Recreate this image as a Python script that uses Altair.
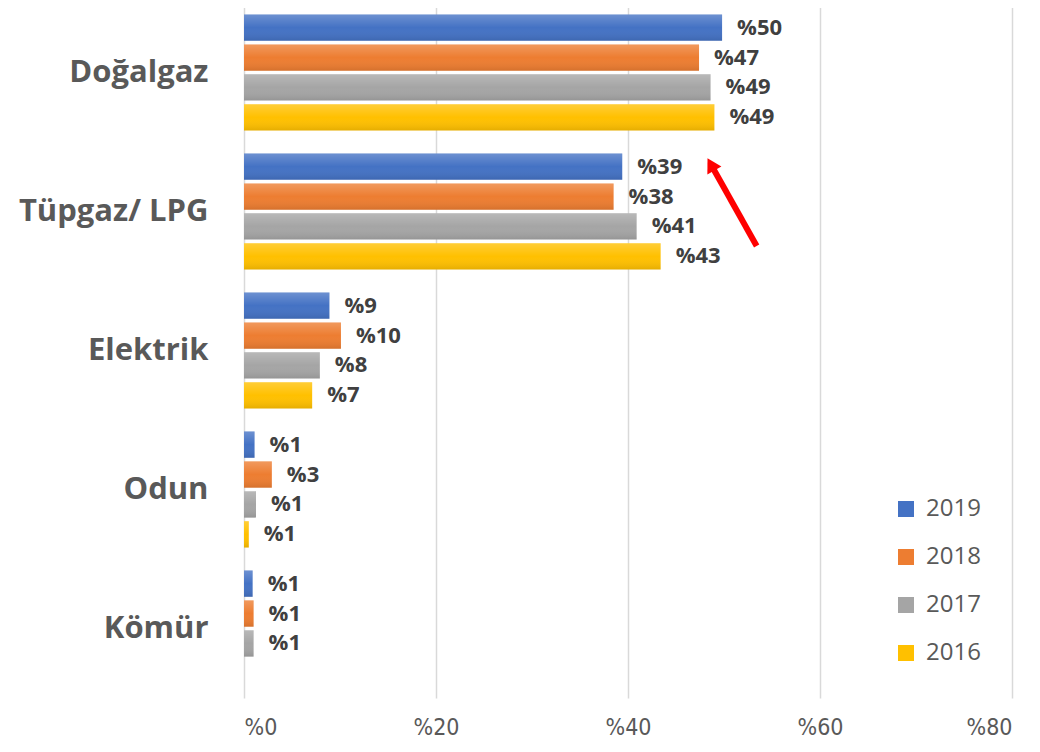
import altair as alt
import pandas as pd

categories = ["Doğalgaz", "Tüpgaz/ LPG", "Elektrik", "Odun", "Kömür"]
years = ["2019", "2018", "2017", "2016"]
colors = ["#4472C4", "#ED7D31", "#A5A5A5", "#FFC000"]

v2019 = [49.8, 39.4, 8.9, 1.1, 0.9]
v2018 = [47.4, 38.5, 10.1, 2.9, 1.0]
v2017 = [48.6, 40.9, 7.9, 1.25, 1.0]
v2016 = [49.0, 43.4, 7.1, 0.5, None]

l2019 = ["%50", "%39", "%9", "%1", "%1"]
l2018 = ["%47", "%38", "%10", "%3", "%1"]
l2017 = ["%49", "%41", "%8", "%1", "%1"]
l2016 = ["%49", "%43", "%7", "%1", None]

# red arrow annotation (x in %, y in category units from the top)
arrow_x = [53.4]
arrow_x2 = [48.95]
arrow_y = [1.748]
arrow_y2 = [1.199]
head_x = [48.64]
head_y = [1.161]

rows = []
for year, vals, labs in zip(years, [v2019, v2018, v2017, v2016], [l2019, l2018, l2017, l2016]):
    for c, v, l in zip(categories, vals, labs):
        if v is None:
            continue
        rows.append({"cat": c, "year": year, "value": v, "label": l})
df = pd.DataFrame(rows)

FONT = "Open Sans"
AXFONT = "Liberation Sans Narrow, DejaVu Sans Condensed, sans-serif"

x = alt.X(
    "value:Q",
    scale=alt.Scale(domain=[0, 80]),
    axis=alt.Axis(
        values=[0, 20, 40, 60, 80], labelExpr="'%' + datum.value", grid=True,
        gridColor="#d9d9d9", gridWidth=1.5, domain=False, ticks=False, labelFont=AXFONT,
        labelFontSize=23, labelColor="#595959", labelPadding=18, title=None,
    ),
)
y = alt.Y(
    "cat:N", sort=categories,
    scale=alt.Scale(paddingInner=0.165, paddingOuter=0.0825),
    axis=alt.Axis(
        title=None, domain=False, ticks=False, labelFont=FONT, labelFontWeight="bold",
        labelFontSize=31, labelColor="#595959", labelPadding=36, labelLimit=0,
    ),
)
yoff = alt.YOffset("year:N", sort=years, scale=alt.Scale(paddingInner=0.12))
color = alt.Color(
    "year:N", sort=years, scale=alt.Scale(domain=years, range=colors),
    legend=alt.Legend(
        orient="none", legendX=650, legendY=494, title=None, symbolType="square",
        symbolSize=256, labelFontSize=24, labelColor="#595959", labelFont=FONT,
        rowPadding=24, labelOffset=8, symbolStrokeWidth=0,
    ),
)

base = alt.Chart(df)
bars = base.mark_bar().encode(x=x, y=y, yOffset=yoff, color=color)
shade = base.mark_bar(
    color=alt.Gradient(
        gradient="linear", x1=0, x2=0, y1=0, y2=1,
        stops=[
            alt.GradientStop(color="rgba(255,255,255,0.22)", offset=0),
            alt.GradientStop(color="rgba(255,255,255,0.0)", offset=0.5),
            alt.GradientStop(color="rgba(0,0,0,0.10)", offset=1),
        ],
    )
).encode(x=x, y=y, yOffset=yoff)
text = base.mark_text(
    align="left", baseline="middle", dx=15, font=FONT, fontWeight="bold",
    fontSize=22, color="#404040",
).encode(x=x, y=y, yOffset=yoff, text="label:N")

main = alt.layer(bars, shade, text)

arrow_df = pd.DataFrame({"x": arrow_x, "x2": arrow_x2, "y": arrow_y, "y2": arrow_y2})
head_df = pd.DataFrame({"x": head_x, "y": head_y})
ay = alt.Y("y:Q", scale=alt.Scale(domain=[0, 5], reverse=True), axis=None)
shaft = alt.Chart(arrow_df).mark_rule(color="#ff0000", strokeWidth=6).encode(
    x=alt.X("x:Q"), x2="x2:Q", y=ay, y2="y2:Q"
)
head = alt.Chart(head_df).mark_point(
    shape="triangle-up", filled=True, size=260, angle=330.5, color="#ff0000", opacity=1
).encode(x=alt.X("x:Q"), y=ay)
arrow = alt.layer(shaft, head)

chart = (
    alt.layer(main, arrow)
    .resolve_scale(y="independent")
    .properties(
        width=768, height=695,
        padding={"left": 236, "top": -5, "right": 20, "bottom": 40},
        autosize=alt.AutoSizeParams(type="none"),
        background="white",
    )
    .configure_view(stroke=None)
)

chart.save("out.html", embed_options={"renderer": "svg", "actions": False})
